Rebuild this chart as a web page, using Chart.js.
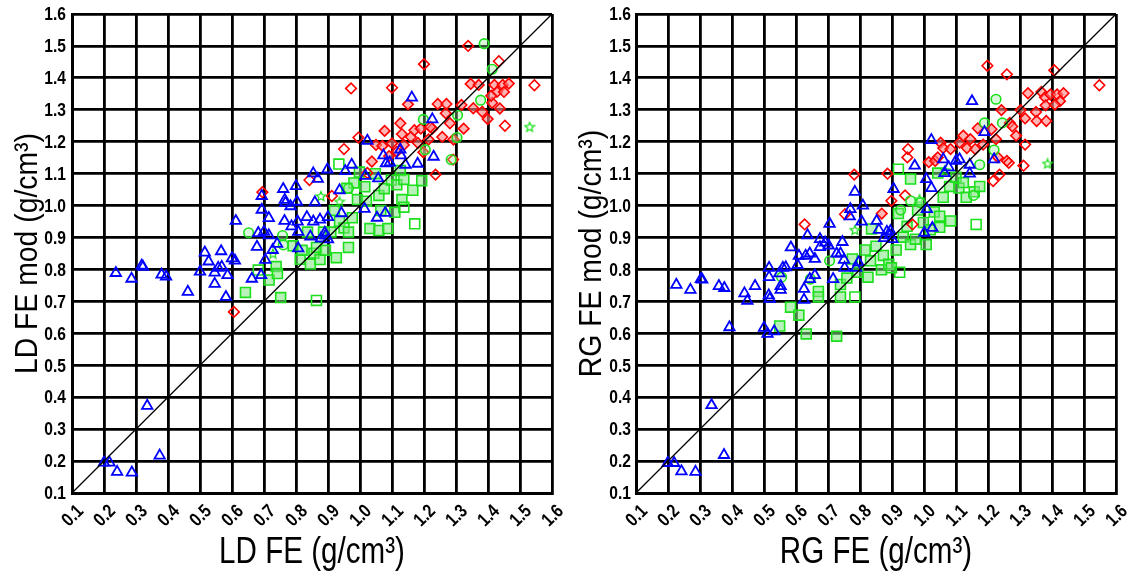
<!DOCTYPE html>
<html>
<head>
<meta charset="utf-8">
<script src="https://cdn.jsdelivr.net/npm/chart.js@4.4.1/dist/chart.umd.min.js"></script>
<style>
  body { margin: 0; background: #fff; }
  canvas { position: absolute; top: 0; }
  #ldChart { left: 0; }
  #rgChart { left: 560px; }
</style>
</head>
<body>
<canvas id="ldChart" width="565" height="571"></canvas>
<canvas id="rgChart" width="571" height="571"></canvas>
<script>
// Axis ticks (same on both axes of both panels)
const tickLabels = ['0.1', '0.2', '0.3', '0.4', '0.5', '0.6', '0.7', '0.8', '0.9', '1.0', '1.1', '1.2', '1.3', '1.4', '1.5', '1.6'];
const oneToOne = [0.1, 1.6];

// LD panel: [FE, FE mod] pairs per group
const ldTriangles = [
    [0.20, 0.195], [0.217, 0.195], [0.241, 0.166], [0.287, 0.164], [0.335, 0.373], [0.374, 0.217],
    [0.237, 0.789], [0.286, 0.771], [0.318, 0.812], [0.322, 0.808], [0.38, 0.784], [0.394, 0.778],
    [0.462, 0.73], [0.50, 0.793], [0.515, 0.853], [0.527, 0.825], [0.546, 0.755], [0.546, 0.79],
    [0.557, 0.805], [0.566, 0.857], [0.568, 0.808], [0.586, 0.782], [0.581, 0.714], [0.60, 0.835],
    [0.609, 0.828], [0.612, 0.952], [0.662, 0.771], [0.678, 0.871], [0.682, 0.914], [0.691, 0.782],
    [0.693, 0.987], [0.693, 1.03], [0.70, 0.918], [0.704, 0.83], [0.715, 0.961], [0.715, 0.907],
    [0.727, 0.861], [0.741, 0.88], [0.76, 1.052], [0.765, 1.018], [0.767, 1.009], [0.764, 0.952],
    [0.783, 0.998], [0.786, 0.935], [0.80, 1.061], [0.803, 1.012], [0.805, 0.95], [0.807, 0.918],
    [0.807, 0.866], [0.834, 0.964], [0.845, 0.903], [0.854, 1.101], [0.859, 1.01], [0.854, 0.95],
    [0.868, 1.084], [0.875, 0.956], [0.878, 0.897], [0.89, 0.915], [0.898, 1.113], [0.90, 0.964],
    [0.893, 0.906], [0.90, 0.894], [0.936, 1.048], [0.942, 0.976], [0.954, 1.108], [0.974, 1.128],
    [1.014, 0.99], [1.017, 1.093], [1.023, 1.203], [1.053, 0.962], [1.057, 1.085], [1.073, 1.157],
    [1.081, 1.132], [1.079, 0.977], [1.093, 1.135], [1.126, 1.175], [1.128, 1.157], [1.142, 1.128],
    [1.162, 1.338], [1.18, 1.131], [1.226, 1.27], [1.23, 1.153]
];
const ldDiamondsOpen = [
    [0.606, 0.667], [0.695, 1.042], [0.842, 1.08], [0.95, 1.177], [0.972, 1.367], [0.995, 1.213],
    [1.10, 1.369], [1.20, 1.443], [1.338, 1.50], [1.434, 1.452], [1.545, 1.377], [1.453, 1.25],
    [1.236, 1.097], [1.291, 1.144], [1.023, 1.102], [0.912, 1.03]
];
const ldDiamondsFilled = [
    [1.037, 1.138], [1.05, 1.19], [1.077, 1.234], [1.07, 1.187], [1.10, 1.195], [1.115, 1.169],
    [1.126, 1.258], [1.131, 1.224], [1.137, 1.19], [1.15, 1.317], [1.159, 1.215], [1.17, 1.236],
    [1.181, 1.196], [1.19, 1.241], [1.198, 1.167], [1.214, 1.207], [1.226, 1.241], [1.243, 1.318],
    [1.257, 1.215], [1.268, 1.289], [1.27, 1.318], [1.281, 1.258], [1.292, 1.207], [1.317, 1.315],
    [1.324, 1.241], [1.346, 1.381], [1.354, 1.305], [1.371, 1.378], [1.382, 1.294], [1.399, 1.271],
    [1.413, 1.322], [1.42, 1.378], [1.428, 1.356], [1.446, 1.378], [1.465, 1.382], [1.45, 1.356],
    [1.41, 1.344], [1.437, 1.304], [1.091, 1.155], [1.22, 1.246]
];
const ldSquaresFilled = [
    [0.642, 0.728], [0.716, 0.767], [0.738, 0.809], [0.742, 0.787], [0.752, 0.712], [0.791, 0.874],
    [0.813, 0.832], [0.819, 0.86], [0.836, 0.917], [0.845, 0.817], [0.856, 0.851], [0.875, 0.831],
    [0.864, 0.869], [0.886, 0.917], [0.892, 0.86], [0.909, 0.917], [0.926, 0.837], [0.92, 0.985],
    [0.936, 0.951], [0.95, 0.93], [0.964, 0.869], [0.964, 0.917], [0.976, 0.962], [0.981, 1.071],
    [0.992, 1.019], [1.015, 1.059], [1.02, 1.014], [1.031, 0.928], [1.048, 1.10], [1.059, 1.032],
    [1.059, 0.922], [1.065, 0.985], [1.076, 1.053], [1.087, 0.928], [1.098, 1.08], [1.109, 0.979],
    [1.115, 1.065], [1.126, 1.11], [1.131, 1.019], [1.137, 1.082], [1.165, 1.048], [1.193, 1.078],
    [0.998, 1.105], [0.959, 1.054]
];
const ldSquaresOpen = [
    [0.682, 0.798], [0.934, 1.13], [0.864, 0.703], [1.171, 0.943], [1.137, 0.995]
];
const ldCircles = [
    [0.652, 0.915], [0.758, 0.906], [0.76, 0.877], [0.964, 1.054], [1.204, 1.175], [1.198, 1.27],
    [1.285, 1.144], [1.377, 1.33], [1.413, 1.427], [1.388, 1.507], [1.305, 1.283], [1.303, 1.213]
];
const ldStars = [
    [1.53, 1.247], [0.878, 1.03], [0.936, 1.013], [0.728, 0.85]
];

// RG panel
const rgTriangles = [
    [0.199, 0.194], [0.219, 0.194], [0.242, 0.168], [0.286, 0.166], [0.336, 0.375], [0.375, 0.219],
    [0.226, 0.752], [0.27, 0.736], [0.303, 0.77], [0.307, 0.768], [0.359, 0.748], [0.376, 0.742],
    [0.392, 0.619], [0.439, 0.725], [0.448, 0.702], [0.472, 0.748], [0.50, 0.617], [0.511, 0.598],
    [0.516, 0.805], [0.516, 0.776], [0.515, 0.719], [0.518, 0.708], [0.532, 0.606], [0.548, 0.788],
    [0.552, 0.748], [0.552, 0.736], [0.559, 0.805], [0.568, 0.807], [0.584, 0.869], [0.605, 0.814],
    [0.609, 0.843], [0.625, 0.739], [0.625, 0.705], [0.63, 0.843], [0.636, 0.907], [0.643, 0.85],
    [0.643, 0.77], [0.659, 0.833], [0.659, 0.782], [0.675, 0.895], [0.675, 0.87], [0.691, 0.884],
    [0.702, 0.875], [0.705, 0.943], [0.716, 0.77], [0.727, 0.85], [0.739, 0.85], [0.745, 0.886],
    [0.75, 0.83], [0.752, 0.805], [0.77, 0.989], [0.768, 0.966], [0.784, 1.043], [0.788, 0.805],
    [0.795, 0.822], [0.805, 0.95], [0.809, 1.0], [0.852, 0.952], [0.859, 0.924], [0.875, 0.898],
    [0.884, 0.918], [0.893, 0.907], [0.895, 0.92], [0.905, 1.052], [0.901, 0.895], [0.971, 1.125],
    [1.001, 0.915], [1.009, 0.989], [1.007, 1.083], [1.023, 1.205], [1.023, 1.055], [1.026, 0.93],
    [1.06, 1.145], [1.064, 1.102], [1.077, 1.12], [1.10, 1.14], [1.111, 1.145], [1.143, 1.128],
    [1.143, 1.10], [1.15, 1.327], [1.189, 1.23], [1.219, 1.145]
];
const rgDiamondsOpen = [
    [0.627, 0.941], [0.782, 1.097], [0.753, 0.973], [0.886, 1.10], [0.898, 1.015], [0.941, 1.032],
    [0.95, 1.177], [0.948, 1.151], [1.198, 1.438], [1.259, 1.411], [1.407, 1.424], [1.548, 1.377],
    [1.311, 1.125], [1.216, 1.077], [1.236, 1.097], [1.265, 1.134], [1.316, 1.191], [0.964, 0.941]
];
const rgDiamondsFilled = [
    [0.868, 0.975], [1.015, 1.136], [1.035, 1.14], [1.052, 1.197], [1.06, 1.18], [1.083, 1.177],
    [1.111, 1.197], [1.123, 1.219], [1.134, 1.18], [1.145, 1.208], [1.16, 1.177], [1.168, 1.242],
    [1.185, 1.191], [1.211, 1.239], [1.225, 1.208], [1.231, 1.151], [1.242, 1.299], [1.259, 1.14],
    [1.268, 1.259], [1.276, 1.248], [1.288, 1.219], [1.302, 1.299], [1.316, 1.273], [1.325, 1.352],
    [1.35, 1.293], [1.352, 1.265], [1.367, 1.356], [1.378, 1.339], [1.38, 1.314], [1.382, 1.265],
    [1.395, 1.348], [1.416, 1.348], [1.425, 1.327], [1.436, 1.352], [1.409, 1.316], [1.043, 1.151]
];
const rgSquaresFilled = [
    [0.549, 0.623], [0.583, 0.682], [0.609, 0.657], [0.632, 0.598], [0.67, 0.731], [0.67, 0.714],
    [0.727, 0.591], [0.739, 0.714], [0.739, 0.753], [0.759, 0.773], [0.776, 0.833], [0.793, 0.791],
    [0.816, 0.861], [0.825, 0.776], [0.833, 0.827], [0.836, 0.927], [0.85, 0.873], [0.867, 0.799],
    [0.873, 0.844], [0.89, 0.816], [0.898, 0.805], [0.913, 0.861], [0.92, 0.975], [0.935, 0.901],
    [0.947, 0.935], [0.958, 0.878], [0.958, 1.083], [0.973, 0.895], [0.98, 0.986], [0.998, 0.947],
    [1.007, 0.878], [1.02, 0.924], [1.032, 0.98], [1.043, 1.102], [1.049, 0.967], [1.049, 0.932],
    [1.06, 1.026], [1.08, 1.06], [1.083, 0.952], [1.10, 1.089], [1.109, 1.055], [1.123, 1.072],
    [1.132, 1.026], [1.157, 1.043], [1.174, 1.06]
];
const rgSquaresOpen = [
    [0.784, 0.714], [0.924, 0.791], [0.92, 1.114], [1.163, 0.941]
];
const rgCircles = [
    [0.555, 0.776], [0.645, 0.77], [0.705, 0.827], [0.927, 0.986], [0.958, 1.015], [1.155, 1.032],
    [1.174, 1.128], [1.189, 1.259], [1.219, 1.174], [1.225, 1.333], [1.245, 1.259], [0.989, 1.009]
];
const rgStars = [
    [1.386, 1.132], [0.784, 0.924], [0.986, 1.02], [1.066, 1.111]
];

const RED = '#ff0000';
const PINK = 'rgba(255, 130, 130, 0.6)';
const GREEN = '#1be01b';
const LIGHT_GREEN = 'rgba(130, 230, 130, 0.55)';
const BLUE = '#0000ff';
const FONT = "'Liberation Sans', Arial, sans-serif";

// outlined five-point star used as a point style
function makeStar(color) {
    const c = document.createElement('canvas');
    c.width = 12;
    c.height = 12;
    const g = c.getContext('2d');
    g.strokeStyle = color;
    g.lineWidth = 1.2;
    g.beginPath();
    for (let i = 0; i < 10; i++) {
        const r = i % 2 === 0 ? 5 : 2.2;
        const a = -Math.PI / 2 + i * Math.PI / 5;
        const px = 6 + r * Math.cos(a);
        const py = 6.5 + r * Math.sin(a);
        if (i === 0) g.moveTo(px, py); else g.lineTo(px, py);
    }
    g.closePath();
    g.stroke();
    return c;
}
const starStyle = makeStar(GREEN);

function toPoints(pairs) {
    return pairs.map(p => ({ x: p[0], y: p[1] }));
}

function markers(pairs, style, border, fill, radius, width) {
    return {
        type: 'scatter',
        data: toPoints(pairs),
        pointStyle: style,
        pointRadius: radius,
        pointHoverRadius: radius,
        pointBorderColor: border,
        pointBackgroundColor: fill,
        pointBorderWidth: width || 1.6
    };
}

// narrow text: the font is squeezed horizontally along the text direction
function drawText(ctx, text, x, y, rot, font, sx, align, baseline) {
    ctx.save();
    ctx.translate(x, y);
    ctx.rotate(rot);
    ctx.scale(sx, 1);
    ctx.font = font;
    ctx.textAlign = align;
    ctx.textBaseline = baseline;
    ctx.fillText(text, 0, 0);
    ctx.restore();
}

// tick labels and axis titles, placed from the chart's scales
const axisTextPlugin = {
    id: 'axisText',
    afterDraw(chart, args, opts) {
        const ctx = chart.ctx;
        const area = chart.chartArea;
        const xs = chart.scales.x;
        const ys = chart.scales.y;
        const tickFont = 'bold 19px ' + FONT;
        ctx.save();
        ctx.fillStyle = '#000';
        tickLabels.forEach(lbl => {
            const v = parseFloat(lbl);
            drawText(ctx, lbl, area.left - opts.yTickGap, ys.getPixelForValue(v) + 1, 0, tickFont, 0.82, 'right', 'middle');
            drawText(ctx, lbl, xs.getPixelForValue(v) + 1, area.bottom + 23, -Math.PI / 4, tickFont, 0.82, 'center', 'middle');
        });
        drawText(ctx, opts.xTitle, (area.left + area.right) / 2, area.bottom + 70, 0, '37px ' + FONT, 0.8, 'center', 'alphabetic');
        drawText(ctx, opts.yTitle, opts.yTitleX, (area.top + area.bottom) / 2, -Math.PI / 2, '31.5px ' + FONT, 0.9, 'center', 'alphabetic');
        ctx.restore();
    }
};

function makeChart(id, g, text, yWidth, padRight) {
    const ctx = document.getElementById(id).getContext('2d');
    return new Chart(ctx, {
        type: 'scatter',
        data: {
            datasets: [
                {
                    type: 'line',
                    data: oneToOne.map(v => ({ x: v, y: v })),
                    borderColor: '#000',
                    borderWidth: 1.3,
                    pointRadius: 0,
                    fill: false
                },
                markers(g.triangles, 'triangle', BLUE, 'rgba(0,0,0,0)', 6, 1.8),
                markers(g.circles, 'circle', GREEN, 'rgba(150, 235, 150, 0.35)', 4.8),
                markers(g.stars, starStyle, GREEN, GREEN, 5),
                markers(g.diamondsOpen, 'rectRot', RED, 'rgba(0,0,0,0)', 5.3),
                markers(g.diamondsFilled, 'rectRot', RED, PINK, 5.3),
                markers(g.squaresOpen, 'rect', GREEN, 'rgba(0,0,0,0)', 7),
                markers(g.squaresFilled, 'rect', GREEN, LIGHT_GREEN, 7)
            ]
        },
        options: {
            responsive: false,
            animation: false,
            events: [],
            layout: { padding: { top: 14, right: padRight, left: 0, bottom: 0 } },
            plugins: {
                legend: { display: false },
                tooltip: { enabled: false },
                axisText: text
            },
            scales: {
                x: {
                    type: 'linear',
                    min: 0.1,
                    max: 1.6,
                    ticks: { stepSize: 0.1, display: false },
                    grid: { color: '#000', lineWidth: 2.8, drawTicks: false },
                    border: { color: '#000', width: 3 },
                    afterFit: s => { s.height = 78; }
                },
                y: {
                    type: 'linear',
                    min: 0.1,
                    max: 1.6,
                    ticks: { stepSize: 0.1, display: false },
                    grid: { color: '#000', lineWidth: 2.8, drawTicks: false },
                    border: { color: '#000', width: 3 },
                    afterFit: s => { s.width = yWidth; }
                }
            }
        },
        plugins: [axisTextPlugin]
    });
}

makeChart('ldChart', {
    triangles: ldTriangles, circles: ldCircles, stars: ldStars,
    diamondsOpen: ldDiamondsOpen, diamondsFilled: ldDiamondsFilled,
    squaresOpen: ldSquaresOpen, squaresFilled: ldSquaresFilled
}, { xTitle: 'LD FE (g/cm³)', yTitle: 'LD FE mod (g/cm³)', yTitleX: 37, yTickGap: 6 }, 72, 13);

makeChart('rgChart', {
    triangles: rgTriangles, circles: rgCircles, stars: rgStars,
    diamondsOpen: rgDiamondsOpen, diamondsFilled: rgDiamondsFilled,
    squaresOpen: rgSquaresOpen, squaresFilled: rgSquaresFilled
}, { xTitle: 'RG FE (g/cm³)', yTitle: 'RG FE mod (g/cm³)', yTitleX: 41, yTickGap: 5 }, 76, 15);
</script>
</body>
</html>
